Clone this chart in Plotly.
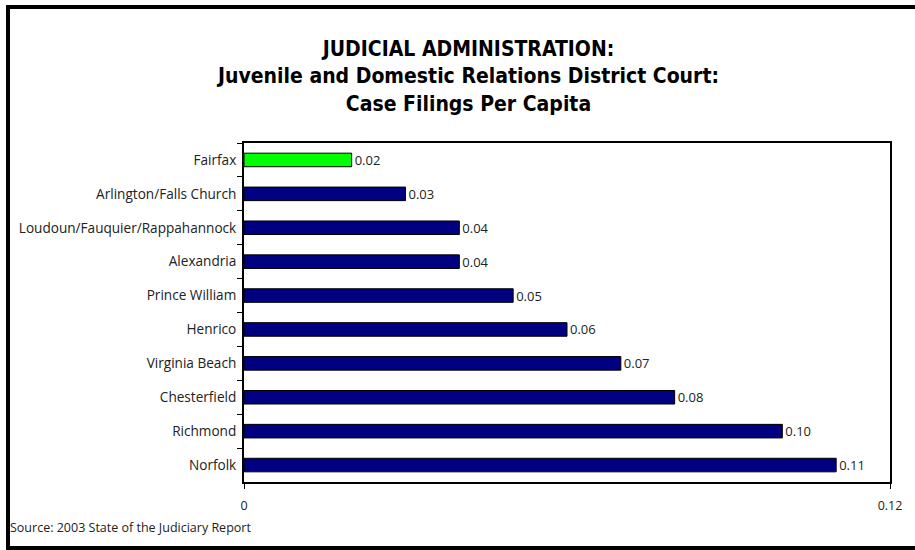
import plotly.graph_objects as go

jurisdictions = ["Fairfax", "Arlington/Falls Church", "Loudoun/Fauquier/Rappahannock",
                 "Alexandria", "Prince William", "Henrico", "Virginia Beach",
                 "Chesterfield", "Richmond", "Norfolk"]
filings_per_capita = [0.02, 0.03, 0.04, 0.04, 0.05, 0.06, 0.07, 0.08, 0.10, 0.11]
value_labels = ["0.02", "0.03", "0.04", "0.04", "0.05", "0.06", "0.07", "0.08", "0.10", "0.11"]
x_ticks = [0, 0.12]
x_tick_labels = ["0", "0.12"]

colors = ["#00FF00" if j == "Fairfax" else "#000080" for j in jurisdictions]

FONT = "Open Sans, Lato, sans-serif"
TITLE_FONT = "DejaVu Sans Condensed, sans-serif"

fig = go.Figure(go.Bar(
    x=filings_per_capita, y=jurisdictions, orientation="h",
    marker=dict(color=colors, line=dict(color="black", width=1)),
    width=0.4,
    text=value_labels, textposition="outside", cliponaxis=False,
    constraintext="none",
    textfont=dict(family=FONT, size=13, color="#222"),
    hoverinfo="skip",
))

L, R, T, B = 244, 25, 143, 68
W, H = 915, 550
pw, ph = W - L - R, H - T - B

def px_x(x):
    return (x - L) / pw

def px_y(y):
    return (H - B - y) / ph

title_text = ("<b>JUDICIAL ADMINISTRATION:<br>"
              "Juvenile and Domestic Relations District Court:<br>"
              "Case Filings Per Capita</b>")

fig.update_layout(
    width=W, height=H,
    margin=dict(l=L, r=R, t=T, b=B, autoexpand=False),
    paper_bgcolor="white", plot_bgcolor="white",
    showlegend=False,
    font=dict(family=FONT, size=13, color="#222"),
    xaxis=dict(
        range=[0, 0.12], tickvals=x_ticks, ticktext=x_tick_labels,
        showgrid=False, zeroline=False,
        ticks="outside", ticklen=5, tickcolor="black", tickwidth=1,
        ticklabelstandoff=6,
        showline=True, linecolor="black", linewidth=2, mirror=True,
        tickfont=dict(family=FONT, size=12.5, color="#222"),
    ),
    yaxis=dict(
        categoryorder="array", categoryarray=jurisdictions, autorange="reversed",
        showgrid=False, ticks="outside", ticklen=5, tickcolor="black",
        tickson="boundaries", showline=True, linecolor="black", linewidth=2, mirror=True,
        ticklabelstandoff=3,
        tickfont=dict(family=FONT, size=13.6, color="#222"),
    ),
    shapes=[dict(type="rect", xref="paper", yref="paper",
                 x0=px_x(8), x1=px_x(925), y0=px_y(548), y1=px_y(7),
                 line=dict(color="black", width=4), fillcolor="rgba(0,0,0,0)", layer="below")],
    annotations=[
        dict(text=title_text, xref="paper", yref="paper", x=px_x(467), y=px_y(76),
             xanchor="center", yanchor="middle", showarrow=False, align="center",
             font=dict(family=TITLE_FONT, size=21, color="black")),
        dict(text="Source: 2003 State of the Judiciary Report",
             xref="paper", yref="paper", x=px_x(8), y=px_y(527),
             xanchor="left", yanchor="middle", showarrow=False,
             font=dict(family=FONT, size=12.5, color="#222")),
    ],
)

fig.write_html("out.html", config={"displayModeBar": False},
               post_script="document.body.style.margin='0';document.body.style.overflow='hidden';")
